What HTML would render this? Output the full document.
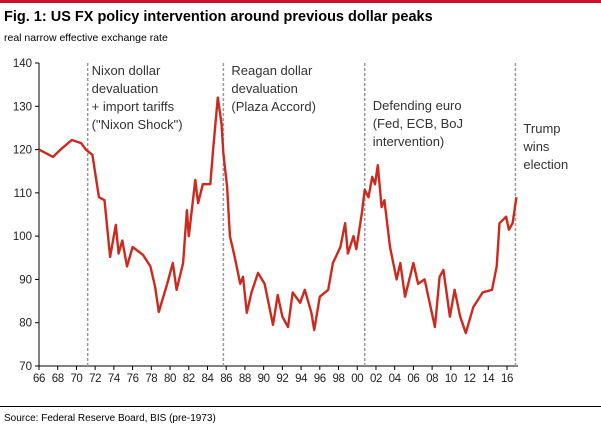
<!DOCTYPE html>
<html><head><meta charset="utf-8"><style>
body{margin:0;background:#fff;width:601px;height:426px;overflow:hidden;font-family:"Liberation Sans",sans-serif}
svg{position:absolute;left:0;top:0}
</style></head><body>
<svg id="chart" width="601" height="426">
<rect x="0" y="0" width="601" height="3" fill="#c8102e"/>
<text x="4" y="21" font-size="14.5" font-weight="bold" fill="#000">Fig. 1: US FX policy intervention around previous dollar peaks</text>
<text x="4" y="41" font-size="10.5" fill="#000">real narrow effective exchange rate</text>
<line x1="0" y1="406.5" x2="601" y2="406.5" stroke="#000" stroke-width="1"/>
<text x="4" y="421" font-size="10" fill="#000">Source: Federal Reserve Board, BIS (pre-1973)</text>
<g id="axes"></g>
<g id="events"></g>
<path id="line" fill="none" stroke="#cc2a1f" stroke-width="2.4" stroke-linejoin="round"/>
</svg>
<script>
const years=[1966,1967.5,1968.3,1969.5,1970.5,1971,1971.7,1972.4,1973,1973.6,1974.2,1974.5,1974.9,1975.4,1976,1977.1,1977.9,1978.4,1978.8,1979.7,1980.3,1980.7,1981.4,1981.8,1982,1982.7,1983,1983.5,1984.3,1984.6,1985.1,1985.5,1985.7,1986.1,1986.4,1986.9,1987.5,1987.8,1988.2,1988.7,1989.4,1990.1,1991,1991.5,1992,1992.6,1993.1,1993.9,1994.4,1995.1,1995.4,1996,1996.9,1997.4,1998.2,1998.7,1999,1999.6,1999.9,2000.5,2000.8,2001.2,2001.6,2001.9,2002.2,2002.6,2002.9,2003.5,2004.2,2004.6,2005.1,2006,2006.5,2007.2,2008.3,2008.8,2009.2,2009.9,2010.4,2011,2011.6,2012.4,2013.4,2014.4,2014.9,2015.2,2015.9,2016.2,2016.6,2017];
const values=[120,118.3,120,122.2,121.5,120,118.8,109,108.3,95.2,102.6,96,99,93,97.5,95.7,93,88.3,82.5,89,93.8,87.6,93.8,106,100,113,107.6,112,112,120,132,126,119,111.4,100,95.3,89,90.6,82.3,87,91.5,89,79.5,86.4,81.4,79,87,84.6,87.6,82.3,78.3,86,87.6,93.8,97.5,103,96,100,97,105.4,110.7,109,113.7,112,116.4,106.7,108.3,97.5,90,93.8,86,93.8,89,90,79,90.6,92.2,81.4,87.6,81.4,77.6,83.6,87,87.6,93,103,104.5,101.5,103,109];
const yTicks=[70,80,90,100,110,120,130,140];
const xTickYears=[1966,1968,1970,1972,1974,1976,1978,1980,1982,1984,1986,1988,1990,1992,1994,1996,1998,2000,2002,2004,2006,2008,2010,2012,2014,2016];
const eventYears=[1971.2,1985.7,2000.8,2016.9];
const eventLabels=[["Nixon dollar","devaluation","+ import tariffs","(\"Nixon Shock\")"],["Reagan dollar","devaluation","(Plaza Accord)"],["Defending euro","(Fed, ECB, BoJ","intervention)"],["Trump","wins","election"]];
const labelOffsetX=[4,8,8,8],labelStartY=[75,75,110,133];

const NS="http://www.w3.org/2000/svg";
const X0=39,XEND=518,Y70=366,Y140=63;
const xs=y=>X0+(y-1966)*9.36;
const ys=v=>Y70-(v-70)*(Y70-Y140)/70;
function mk(tag,attrs,parent){const e=document.createElementNS(NS,tag);for(const k in attrs)e.setAttribute(k,attrs[k]);parent.appendChild(e);return e;}
const ax=document.getElementById('axes');
let e=mk('line',{x1:X0,y1:Y140,x2:X0,y2:Y70,stroke:'#000','stroke-width':1},ax);


e=mk('line',{x1:X0,y1:Y70,x2:XEND,y2:Y70,stroke:'#000','stroke-width':1},ax);


yTicks.forEach(v=>{
  const y=ys(v);
  let t=mk('line',{x1:X0-4,y1:y,x2:X0,y2:y,stroke:'#000'},ax);
  
  
  let l=mk('text',{x:X0-7,y:y+4,'font-size':11.5,'text-anchor':'end',fill:'#222'},ax);
  l.textContent=v;
  
  
});
xTickYears.forEach(yr=>{
  const x=xs(yr);
  let t=mk('line',{x1:x,y1:Y70,x2:x,y2:Y70+4,stroke:'#000'},ax);
  
  
  let l=mk('text',{x:x,y:Y70+16,'font-size':11.5,'text-anchor':'middle',fill:'#222','letter-spacing':'-0.4'},ax);
  l.textContent=String(yr).slice(2);
  
  
});
const ev=document.getElementById('events');
eventYears.forEach((yr,i)=>{
  const x=xs(yr);
  let d=mk('line',{x1:x,y1:Y140,x2:x,y2:Y70,stroke:'#999','stroke-width':1.5,'stroke-dasharray':'3,2'},ev);
  
  
  eventLabels[i].forEach((s,j)=>{
    let t=mk('text',{x:x+labelOffsetX[i],y:labelStartY[i]+j*18,'font-size':13,fill:'#333'},ev);
    t.textContent=s;
    
    
  });
});
document.getElementById('line').setAttribute('d',years.map((yr,i)=>(i?'L':'M')+xs(yr).toFixed(1)+' '+ys(values[i]).toFixed(1)).join(' '));
</script>
</body></html>
